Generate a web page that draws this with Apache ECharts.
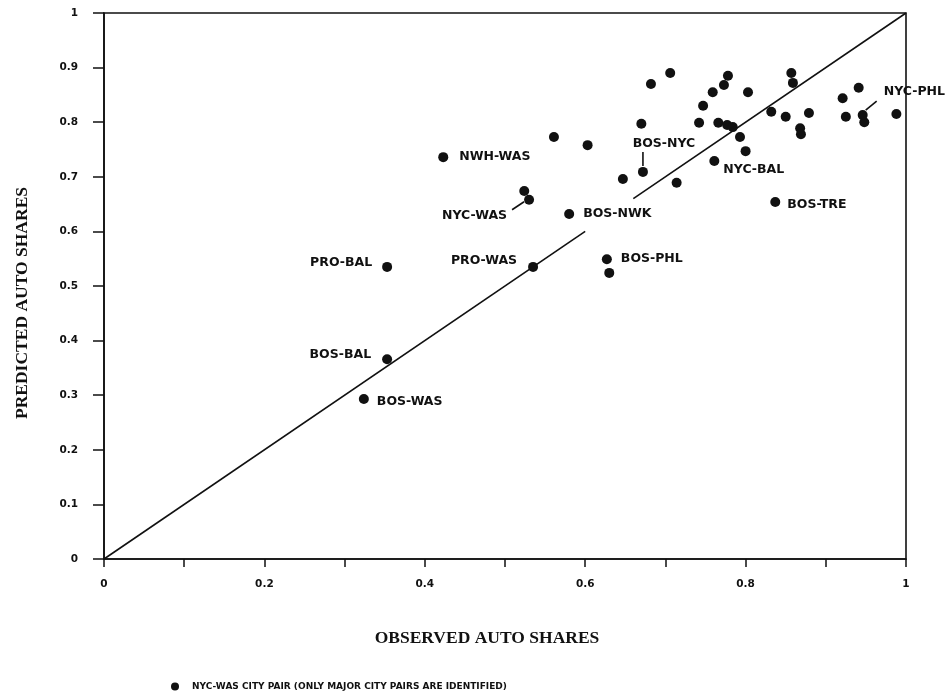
<!DOCTYPE html>
<html>
<head>
<meta charset="utf-8">
<script src="https://cdn.jsdelivr.net/npm/echarts@6/dist/echarts.min.js"></script>
<style>
  html, body { margin: 0; padding: 0; background: #fff; }
  #chart { width: 945px; height: 698px; }
</style>
</head>
<body>
<div id="chart"></div>
<script>
// Major city pairs (identified on the plot)
const pairNames     = ['NWH-WAS', 'NYC-WAS', 'BOS-NWK', 'PRO-WAS', 'PRO-BAL', 'BOS-BAL', 'BOS-WAS', 'BOS-PHL', 'BOS-TRE', 'NYC-BAL', 'BOS-NYC', 'NYC-PHL'];
const pairObserved  = [0.423, 0.530, 0.580, 0.535, 0.353, 0.353, 0.324, 0.627, 0.837, 0.761, 0.672, 0.946];
const pairPredicted = [0.736, 0.658, 0.632, 0.535, 0.535, 0.366, 0.293, 0.549, 0.654, 0.729, 0.709, 0.813];

// Remaining city pairs (not identified)
const otherObserved  = [0.524, 0.630, 0.948, 0.561, 0.603, 0.682, 0.706, 0.670, 0.742, 0.747, 0.759, 0.773, 0.778, 0.766, 0.777, 0.784, 0.793, 0.647, 0.714, 0.800, 0.803, 0.857, 0.859, 0.832, 0.850, 0.879, 0.868, 0.869, 0.921, 0.941, 0.925, 0.988];
const otherPredicted = [0.674, 0.524, 0.800, 0.773, 0.758, 0.870, 0.890, 0.797, 0.799, 0.830, 0.855, 0.868, 0.885, 0.799, 0.795, 0.791, 0.773, 0.696, 0.689, 0.747, 0.855, 0.890, 0.872, 0.819, 0.810, 0.817, 0.789, 0.778, 0.844, 0.863, 0.810, 0.815];

// 45-degree line (predicted = observed), broken where the BOS-NWK label sits
const equalityLine = [[[0, 0], [0.6, 0.6]], [[0.66, 0.66], [1, 1]]];

// Axis ticks
const xTickLabels = ['0', '0.2', '0.4', '0.6', '0.8', '1'];
const yTickLabels = ['0', '0.1', '0.2', '0.3', '0.4', '0.5', '0.6', '0.7', '0.8', '0.9', '1'];

const seriesName = 'NYC-WAS CITY PAIR (ONLY MAJOR CITY PAIRS ARE IDENTIFIED)';
const xTitle = 'OBSERVED AUTO SHARES';
const yTitle = 'PREDICTED AUTO SHARES';

const ink = '#111';

const labelFont = {
  fontFamily: 'DejaVu Sans',
  fontWeight: 'bold',
  fontSize: 12.5,
  color: ink
};

// Placement of each pair label relative to its dot; `leader` is a short
// stroke (pixel offsets from the dot centre) tying a displaced label to its dot
const labelStyle = {
  'NWH-WAS': { position: 'right', distance: 11 },
  'NYC-WAS': { position: 'left', distance: 6, dx: -11, dy: 16, leader: [[-17, 10], [-5, 2]] },
  'BOS-NWK': { position: 'right', distance: 9 },
  'PRO-WAS': { position: 'left', distance: 11, dy: -6 },
  'PRO-BAL': { position: 'left', distance: 10, dy: -4 },
  'BOS-BAL': { position: 'left', distance: 11, dy: -4 },
  'BOS-WAS': { position: 'right', distance: 8, dy: 3 },
  'BOS-PHL': { position: 'right', distance: 9 },
  'BOS-TRE': { position: 'right', distance: 7, dy: 3 },
  'NYC-BAL': { position: 'right', distance: 4, dy: 9 },
  'BOS-NYC': { position: 'top', distance: 4, dx: 21, dy: -13, leader: [[0, -20], [0, -6]] },
  'NYC-PHL': { position: 'right', distance: 6, dx: 10, dy: -23, leader: [[14, -14], [3, -5]] }
};

const labeledData = pairNames.map((name, i) => {
  const s = labelStyle[name];
  return {
    name: name,
    value: [pairObserved[i], pairPredicted[i]],
    label: Object.assign({
      show: true,
      formatter: name,
      position: s.position,
      distance: s.distance
    }, labelFont)
  };
});

// Dots that carry a leader stroke
const leaderData = pairNames
  .map((name, i) => ({ name: name, value: [pairObserved[i], pairPredicted[i]] }))
  .filter(d => labelStyle[d.name].leader);

const otherData = otherObserved.map((x, i) => [x, otherPredicted[i]]);

const chart = echarts.init(document.getElementById('chart'), null, { renderer: 'canvas' });

const tickFont = {
  fontFamily: 'DejaVu Sans',
  fontWeight: 'bold',
  fontSize: 10.5,
  color: ink
};

const titleFont = {
  fontFamily: 'Liberation Serif',
  fontWeight: 'bold',
  fontSize: 17.5,
  fill: ink
};

chart.setOption({
  backgroundColor: '#fff',
  animation: false,
  grid: {
    left: 104,
    right: 39,
    top: 13,
    bottom: 139,
    show: true,
    borderColor: ink,
    borderWidth: 1.6,
    backgroundColor: 'transparent'
  },
  legend: {
    data: [seriesName],
    left: 166,
    top: 677,
    itemWidth: 8,
    itemHeight: 8,
    itemGap: 6,
    icon: 'circle',
    textStyle: {
      fontFamily: 'DejaVu Sans',
      fontWeight: 'bold',
      fontSize: 9,
      color: ink,
      padding: [0, 0, 0, 8]
    }
  },
  graphic: [
    {
      type: 'text',
      x: 487,
      y: 638,
      style: Object.assign({ text: xTitle, align: 'center', verticalAlign: 'middle' }, titleFont)
    },
    {
      type: 'text',
      x: 22,
      y: 303,
      rotation: Math.PI / 2,
      style: Object.assign({ text: yTitle, align: 'center', verticalAlign: 'middle' }, titleFont)
    }
  ],
  xAxis: {
    type: 'value',
    min: 0,
    max: 1,
    interval: 0.1,
    axisLine: { show: true, lineStyle: { color: ink, width: 1.6 } },
    axisTick: { show: true, inside: false, length: 8, lineStyle: { color: ink, width: 1.5 } },
    axisLabel: Object.assign({
      margin: 20,
      formatter: function (v) {
        const k = Math.round(v * 10);
        return k % 2 === 0 ? xTickLabels[k / 2] : '';
      }
    }, tickFont),
    splitLine: { show: false }
  },
  yAxis: {
    type: 'value',
    min: 0,
    max: 1,
    interval: 0.1,
    axisLine: { show: true, lineStyle: { color: ink, width: 1.6 } },
    axisTick: { show: true, inside: false, length: 11, lineStyle: { color: ink, width: 1.5 } },
    axisLabel: Object.assign({
      margin: 26,
      formatter: function (v) {
        return yTickLabels[Math.round(v * 10)];
      }
    }, tickFont),
    splitLine: { show: false }
  },
  series: [
    {
      name: 'equality',
      type: 'line',
      data: equalityLine[0],
      showSymbol: false,
      lineStyle: { color: ink, width: 1.6 },
      silent: true,
      z: 1
    },
    {
      name: 'equality',
      type: 'line',
      data: equalityLine[1],
      showSymbol: false,
      lineStyle: { color: ink, width: 1.6 },
      silent: true,
      z: 1
    },
    {
      name: 'leaders',
      type: 'custom',
      data: leaderData,
      silent: true,
      z: 2,
      renderItem: function (params, api) {
        const p = api.coord([api.value(0), api.value(1)]);
        const seg = labelStyle[leaderData[params.dataIndex].name].leader;
        return {
          type: 'line',
          shape: {
            x1: p[0] + seg[0][0], y1: p[1] + seg[0][1],
            x2: p[0] + seg[1][0], y2: p[1] + seg[1][1]
          },
          style: { stroke: ink, lineWidth: 1.6 }
        };
      }
    },
    {
      name: seriesName,
      type: 'scatter',
      symbol: 'circle',
      symbolSize: 10,
      itemStyle: { color: ink, opacity: 1 },
      data: otherData,
      z: 3
    },
    {
      name: seriesName,
      type: 'scatter',
      symbol: 'circle',
      symbolSize: 10,
      itemStyle: { color: ink, opacity: 1 },
      data: labeledData,
      labelLayout: function (params) {
        const s = labelStyle[pairNames[params.dataIndex]];
        return { dx: s.dx || 0, dy: s.dy || 0, hideOverlap: false };
      },
      z: 4
    }
  ]
});
</script>
</body>
</html>
